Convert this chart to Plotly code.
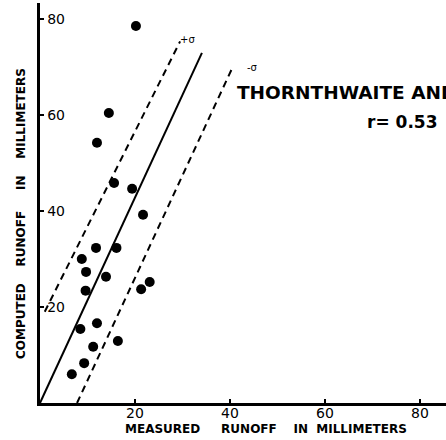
import plotly.graph_objects as go

measured = [20.2, 14.5, 12.0, 15.6, 19.4, 21.7, 11.8, 16.1, 8.8, 9.7,
            13.9, 9.6, 21.3, 23.1, 8.5, 12.0, 16.4, 11.2, 9.3, 6.7]
computed = [78.5, 60.4, 54.2, 45.8, 44.6, 39.2, 32.3, 32.3, 30.0, 27.3,
            26.3, 23.4, 23.7, 25.2, 15.4, 16.6, 12.9, 11.7, 8.3, 6.0]

fit_x = [0.0, 34.1]
fit_y = [0.0, 72.9]
upper_x = [1.0, 29.5]
upper_y = [19.0, 75.3]
lower_x = [7.8, 40.6]
lower_y = [0.0, 70.0]

tick_vals = [20, 40, 60, 80]
tick_text = ["20", "40", "60", "80"]

FONT = "DejaVu Sans"
NB = "&nbsp;"

fig = go.Figure()
fig.add_trace(go.Scatter(x=fit_x, y=fit_y, mode="lines",
                         line=dict(color="black", width=2), showlegend=False))
for xs, ys in [(upper_x, upper_y), (lower_x, lower_y)]:
    fig.add_trace(go.Scatter(x=xs, y=ys, mode="lines",
                             line=dict(color="black", width=2, dash="7px,5px"),
                             showlegend=False))
fig.add_trace(go.Scatter(x=measured, y=computed, mode="markers",
                         marker=dict(color="black", size=10), showlegend=False))

fig.add_annotation(x=upper_x[1], y=upper_y[1], text="+σ", showarrow=False,
                   xanchor="left", yanchor="bottom", xshift=-2, yshift=-6,
                   font=dict(family=FONT, size=10, color="black"))
fig.add_annotation(x=lower_x[1], y=lower_y[1], text="-σ", showarrow=False,
                   xanchor="left", yanchor="bottom", xshift=12, yshift=-8,
                   font=dict(family=FONT, size=10, color="black"))
fig.add_annotation(xref="paper", yref="paper", x=195 / 406, y=(403 - 93) / 400,
                   text="<b>THORNTHWAITE AND</b>", showarrow=False,
                   xanchor="left", yanchor="middle",
                   font=dict(family=FONT, size=18.5, color="black"))
fig.add_annotation(xref="paper", yref="paper", x=325 / 406, y=(403 - 122) / 400,
                   text="<b>r= 0.53</b>", showarrow=False,
                   xanchor="left", yanchor="middle",
                   font=dict(family=FONT, size=17, color="black"))
fig.add_annotation(xref="paper", yref="paper", x=0, xshift=-19, y=(403 - 214) / 400,
                   text="<b>COMPUTED" + NB * 4 + "RUNOFF" + NB * 5 + "IN" + NB * 4 + "MILLIMETERS</b>",
                   showarrow=False, textangle=-90, xanchor="center", yanchor="middle",
                   font=dict(family=FONT, size=12, color="black"))
fig.add_annotation(xref="paper", yref="paper", x=(266 - 40) / 406, y=0, yshift=-26,
                   text="<b>MEASURED" + NB * 5 + "RUNOFF" + NB * 4 + "IN" + NB * 2 + "MILLIMETERS</b>",
                   showarrow=False, xanchor="center", yanchor="middle",
                   font=dict(family=FONT, size=12, color="black"))

fig.update_xaxes(range=[0, 85.5], showgrid=False, zeroline=False,
                 showline=True, linecolor="black", linewidth=3,
                 tickvals=tick_vals, ticktext=tick_text, ticks="inside",
                 ticklen=4, tickwidth=2, tickcolor="black",
                 ticklabelstandoff=-5,
                 tickfont=dict(family=FONT, size=14, color="black"))
fig.update_yaxes(range=[0, 83.3], showgrid=False, zeroline=False,
                 showline=True, linecolor="black", linewidth=3,
                 tickvals=tick_vals, ticktext=tick_text, ticks="inside",
                 ticklen=4, tickwidth=2, tickcolor="black",
                 ticklabelposition="inside", ticklabelstandoff=3,
                 tickfont=dict(family=FONT, size=14, color="black"))

fig.update_layout(width=446, height=440, margin=dict(l=40, r=0, t=3, b=37),
                  plot_bgcolor="white", paper_bgcolor="white")

fig.write_html("out.html")
